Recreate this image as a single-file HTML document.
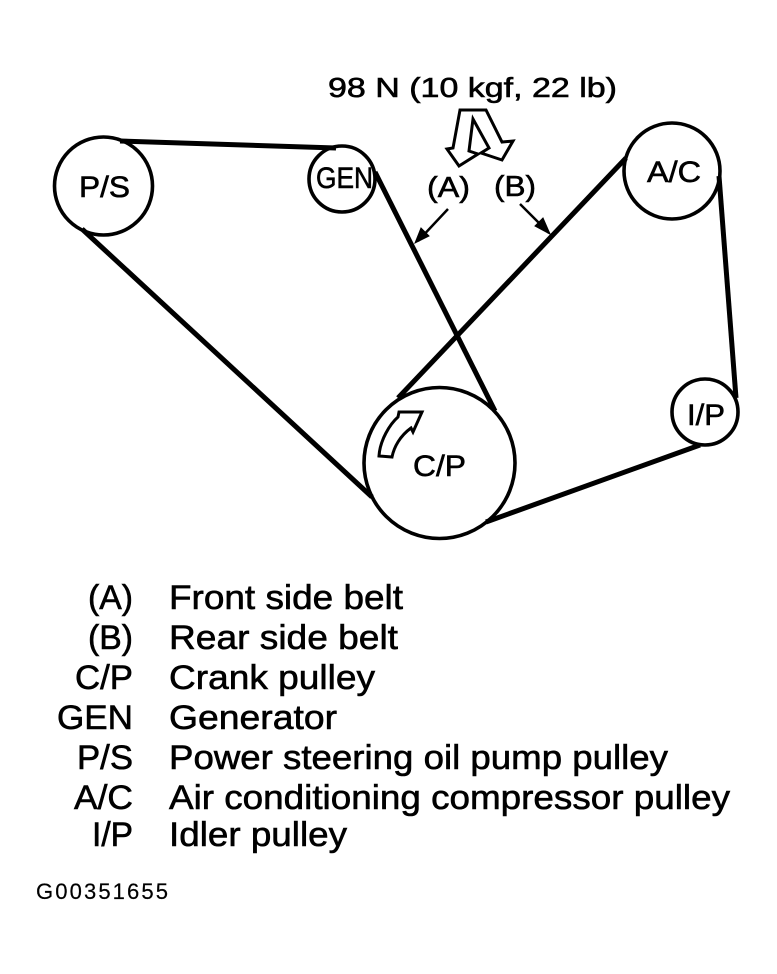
<!DOCTYPE html>
<html><head><meta charset="utf-8"><style>
html,body{margin:0;padding:0;background:#fff}
svg{display:block}
text{font-family:"Liberation Sans",sans-serif;fill:#000;stroke:#000;stroke-width:.6px}
</style></head><body>
<svg width="777" height="974" viewBox="0 0 777 974" xmlns="http://www.w3.org/2000/svg">
<g fill="none" stroke="#000" stroke-width="3.6">
<circle cx="103.5" cy="186" r="49"/>
<circle cx="342" cy="179" r="33"/>
<circle cx="672" cy="171" r="48"/>
<circle cx="705" cy="412" r="33"/>
<circle cx="439.5" cy="463" r="75.5"/>
</g>
<g fill="none" stroke="#000" stroke-width="5">
<path d="M120 141L336 148"/>
<path d="M82 229L372 497"/>
<path d="M375 172L495 411"/>
<path d="M626 158L398 398"/>
<path d="M719 176L736 398"/>
<path d="M700 445L486 522"/>
</g>
<g fill="none" stroke="#000" stroke-width="3" stroke-linejoin="miter">
<path d="M460 110L486 110L502 142L513 141L502 160L481 153L489 148L473 119L469 151L478 154L459 166L447 149L453 148Z"/>
<path d="M379 456L392 457C394 447 400 436 411 428L413 432L422 412L399 412L398 417C390 424 380 440 379 456Z"/>
</g>
<g stroke="#000" stroke-width="2.5" fill="#000">
<path d="M448 209L418 241" fill="none"/>
<path d="M415 243L421 228L429 236Z" stroke-width="1"/>
<path d="M520 204L549 233" fill="none"/>
<path d="M550 234L535 226L543 218Z" stroke-width="1"/>
</g>
<text x="328" y="97" font-size="28" textLength="289" lengthAdjust="spacingAndGlyphs">98 N (10 kgf, 22 lb)</text>
<text x="427" y="197" font-size="29" textLength="43" lengthAdjust="spacingAndGlyphs">(A)</text>
<text x="494" y="196" font-size="29" textLength="42" lengthAdjust="spacingAndGlyphs">(B)</text>
<text x="79" y="197" font-size="30" textLength="51" lengthAdjust="spacingAndGlyphs">P/S</text>
<text x="316" y="188" font-size="30" textLength="57" lengthAdjust="spacingAndGlyphs">GEN</text>
<text x="647" y="182" font-size="30" textLength="54" lengthAdjust="spacingAndGlyphs">A/C</text>
<text x="687" y="425" font-size="30" textLength="38" lengthAdjust="spacingAndGlyphs">I/P</text>
<text x="413" y="476" font-size="30" textLength="53" lengthAdjust="spacingAndGlyphs">C/P</text>
<g font-size="34">
<text x="88" y="609" textLength="45" lengthAdjust="spacingAndGlyphs">(A)</text>
<text x="88" y="649" textLength="45" lengthAdjust="spacingAndGlyphs">(B)</text>
<text x="75" y="689" textLength="58" lengthAdjust="spacingAndGlyphs">C/P</text>
<text x="57" y="729" textLength="76" lengthAdjust="spacingAndGlyphs">GEN</text>
<text x="77" y="769" textLength="56" lengthAdjust="spacingAndGlyphs">P/S</text>
<text x="74" y="809" textLength="59" lengthAdjust="spacingAndGlyphs">A/C</text>
<text x="92" y="846" textLength="41" lengthAdjust="spacingAndGlyphs">I/P</text>
<text x="169" y="609" textLength="234" lengthAdjust="spacingAndGlyphs">Front side belt</text>
<text x="169" y="649" textLength="229" lengthAdjust="spacingAndGlyphs">Rear side belt</text>
<text x="169" y="689" textLength="206" lengthAdjust="spacingAndGlyphs">Crank pulley</text>
<text x="169" y="729" textLength="168" lengthAdjust="spacingAndGlyphs">Generator</text>
<text x="169" y="769" textLength="499" lengthAdjust="spacingAndGlyphs">Power steering oil pump pulley</text>
<text x="169" y="809" textLength="561" lengthAdjust="spacingAndGlyphs">Air conditioning compressor pulley</text>
<text x="169" y="846" textLength="178" lengthAdjust="spacingAndGlyphs">Idler pulley</text>
</g>
<text x="36" y="899" font-size="22" style="stroke-width:.2px" textLength="132">G00351655</text>
</svg>
</body></html>
